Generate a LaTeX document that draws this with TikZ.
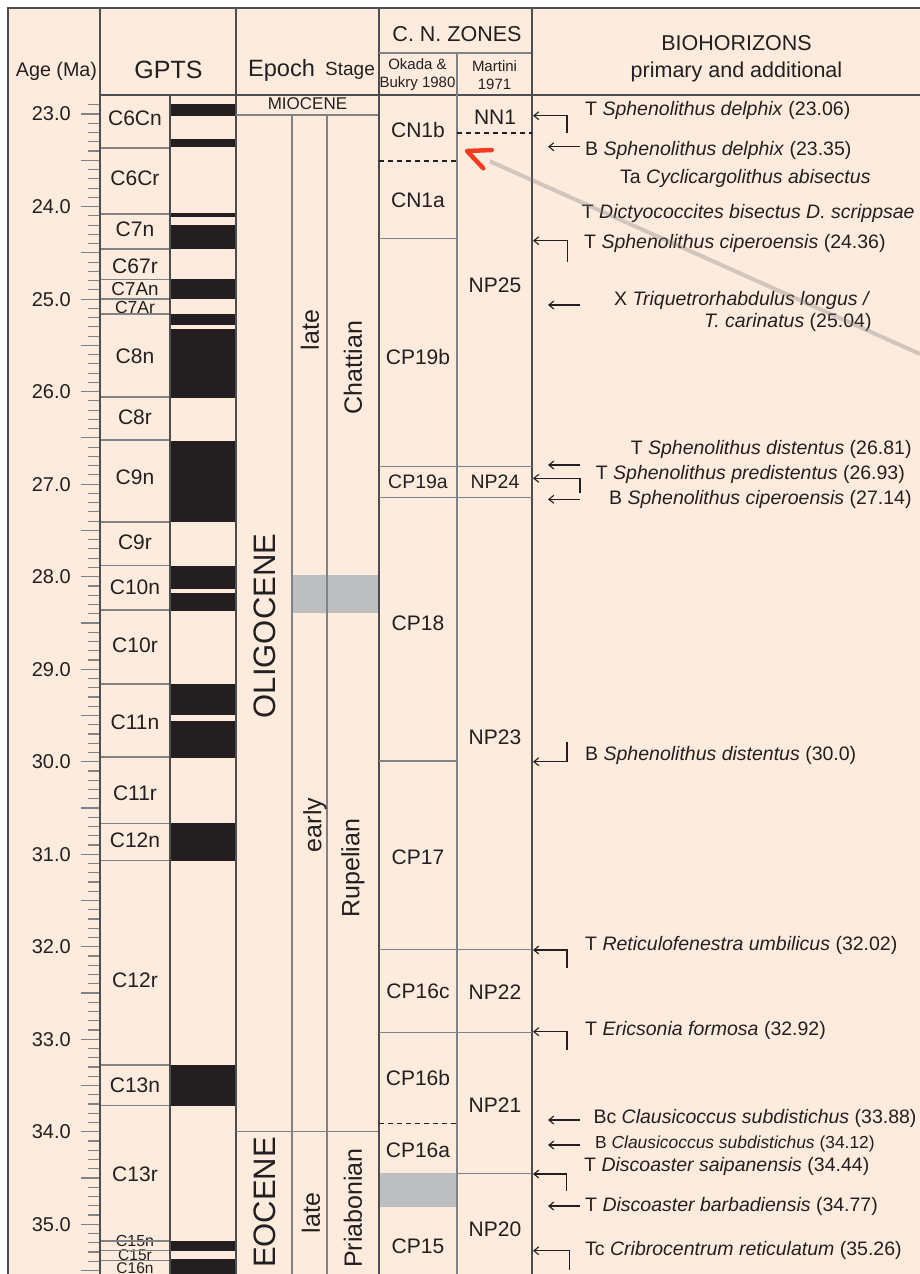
\documentclass[tikz,border=0pt]{standalone}
\usepackage{fontspec}
\setmainfont{Liberation Sans}
\usetikzlibrary{positioning,arrows.meta,calc}
\definecolor{peach}{HTML}{FDEBDD}
\definecolor{ink}{HTML}{231F20}
\definecolor{frame}{HTML}{4D4D4F}
\definecolor{rule}{HTML}{808285}
\definecolor{greyzone}{HTML}{BCBEC0}
\definecolor{pen}{HTML}{F23C1F}
\newcommand{\fsz}[2]{\fontsize{#1}{#2}\selectfont}
\tikzset{
  colline/.style={draw=frame, line width=1.4pt},
  subline/.style={draw=rule, line width=1.1pt},
  zonedash/.style={draw=ink, line width=1.1pt, dash pattern=on 5pt off 4pt},
  hdr/.style={text=ink, inner sep=0pt, font=\fsz{21.5}{27}, align=center},
  smallhdr/.style={text=ink, inner sep=0pt, font=\fsz{15}{18}, align=center},
  chron/.style={text=ink, inner sep=0pt},
  zone/.style={text=ink, inner sep=0pt, font=\fsz{21}{24}},
  agelab/.style={text=ink, inner sep=0pt, anchor=east, font=\fsz{20}{22}},
  vlab/.style={text=ink, inner sep=0pt, rotate=90, font=\fsz{25}{28}},
  epochlab/.style={vlab, font=\fsz{31}{34}},
  bio/.style={text=ink, inner sep=0pt, anchor=west, font=\fsz{19.5}{22.5}},
  polarity/.style={fill=ink},
  greybox/.style={fill=greyzone},
  tickline/.style={draw=rule, line width=1.2pt},
  bioarrow/.style={draw=ink, line width=1.1pt, -{Straight Barb[length=5pt,width=8pt]}}
}

\begin{document}
\begin{tikzpicture}[x=1pt, y=-1pt]
\useasboundingbox (0,0) rectangle (920,1274);
\fill[white] (0,0) rectangle (920,1274);
\fill[peach] (8,8) rectangle (920,1274);

% polarity column
\foreach \t/\b in {104.3/115.7, 139.3/146.7, 213.3/216.7, 225/249.3, 279.3/299,
  314/325, 329.3/397.7, 440.7/522.3, 565.5/589.3, 593.3/610.7, 684/715,
  721/757.7, 823/860.5, 1064.5/1105.7, 1241/1250.5, 1259/1274}
  \fill[polarity] (170,\t) rectangle (236,\b);

% grey intervals
\fill[greybox] (292,575) rectangle (379,612.7);
\fill[greybox] (379,1173.3) rectangle (457,1206.7);

% chron names
\foreach \lab/\yy/\sz [count=\k] in {C6Cn/118/21, C6Cr/178/21, C7n/229/21,
  C67r/266/21, C7An/289/18.8, C7Ar/307/17.5, C8n/356.7/21, C8r/417/21,
  C9n/477.7/21, C9r/542.7/21, C10n/587.3/21, C10r/645/21, C11n/722.7/21,
  C11r/793.3/21, C12n/840.7/21, C12r/980.7/21, C13n/1085/21, C13r/1174.3/21,
  C15n/1241/16, C15r/1255.5/15.5, C16n/1268.5/15.5}
  \node[chron, font=\fsz{\sz}{\sz}] (chron\k) at (135,\yy) {\lab};
\foreach \yy in {148,214,249,279.3,299,314,397,440,522,565.7,610,684,757,
  823.3,860.5,1065,1105.7,1241,1250.3,1260.5}
  \draw[subline] (100,\yy) -- (170,\yy);

% age scale
\foreach \i in {0,...,126} {
  \pgfmathsetmacro\yy{104.84+\i*9.251}
  \pgfmathsetmacro\tx{(mod(\i,5)==1) ? 81 : 88}
  \draw[tickline] (\tx,\yy) -- (100,\yy);
}
\foreach \a in {23,...,35}
  \node[agelab] (age\a) at (71,{114.1+(\a-23)*92.51}) {\a.0};

% frame and columns
\draw[colline] (8,1274) -- (8,8) -- (920,8);
\draw[colline] (100,8) -- (100,1274);
\draw[colline] (100,95) -- (920,95);
\draw[colline] (170,95) -- (170,1274);
\draw[colline] (236,8) -- (236,1274);
\draw[subline] (236,115) -- (379,115);
\draw[subline] (292,115) -- (292,1274);
\draw[subline] (327,115) -- (327,1274);
\draw[subline] (236,1131.7) -- (379,1131.7);
\draw[colline] (379,8) -- (379,1274);
\draw[subline] (379,53) -- (532,53);
\draw[subline] (457,53) -- (457,1274);
\draw[colline, line width=2pt] (532,8) -- (532,1274);

% zone boundaries
\draw[zonedash] (379,161) -- (457,161);
\draw[zonedash] (457,133) -- (532,133);
\draw[zonedash] (379,1123.3) -- (457,1123.3);
\draw[subline] (379,238.3) -- (457,238.3);
\draw[subline] (379,466.7) -- (532,466.7);
\draw[subline] (379,497.3) -- (532,497.3);
\draw[subline] (379,761) -- (457,761);
\draw[subline] (379,949.3) -- (532,949.3);
\draw[subline] (379,1032.3) -- (532,1032.3);
\draw[subline] (457,1173.3) -- (532,1173.3);

% headers
\node[hdr, font=\fsz{19.7}{22}] (agehdr) at (56.5,71) {Age (Ma)};
\node[hdr, font=\fsz{25}{28}] (gptshdr) at (168.5,70) {GPTS};
\node[hdr, font=\fsz{23.6}{26}] (epochhdr) at (281.5,70) {Epoch};
\node[hdr, font=\fsz{19}{22}] (stagehdr) at (350,71) {Stage};
\node[hdr] (cnhdr) at (457,34) {C. N. ZONES};
\node[smallhdr] (okadahdr) at (417.5,75) {Okada \&\\Bukry 1980};
\node[smallhdr] (martinihdr) at (494.5,75) {Martini\\1971};
\node[hdr] (biohdr) at (736.5,58.5) {BIOHORIZONS\\primary and additional};

% epochs and stages
\node[text=ink, inner sep=0pt, font=\fsz{17}{19}] (miocene) at (307.5,104) {MIOCENE};
\node[epochlab] (oligocene) at (265,626) {OLIGOCENE};
\node[epochlab] (eocene) at (265,1202.5) {EOCENE};
\node[vlab] (lateoli) at (310,330) {late};
\node[vlab] (chattian) at (353,367.5) {Chattian};
\node[vlab] (earlyoli) at (315,825) {early};
\node[vlab] (rupelian) at (353,868) {Rupelian};
\node[vlab] (lateeo) at (311,1213) {late};
\node[vlab] (priabonian) at (353,1208) {Priabonian};

% nannofossil zones
\foreach \lab/\yy/\sz [count=\k] in {CN1b/130/21, CN1a/200/21, CP19b/356.7/21,
  CP19a/482/19.5, CP18/623/21, CP17/857/21, CP16c/991.7/21, CP16b/1078/21,
  CP16a/1150.7/21, CP15/1246/21}
  \node[zone, font=\fsz{\sz}{\sz}] (okada\k) at (418,\yy) {\lab};
\foreach \lab/\yy/\sz [count=\k] in {NN1/117/21, NP25/285/21, NP24/482/19.5,
  NP23/737.7/21, NP22/991.7/21, NP21/1105/21, NP20/1229/21}
  \node[zone, font=\fsz{\sz}{\sz}] (martini\k) at (495,\yy) {\lab};

% biohorizons
\node[bio] (bio1) at (585,110) {T \textit{Sphenolithus delphix} (23.06)};
\node[bio] (bio2) at (585,150) {B \textit{Sphenolithus delphix} (23.35)};
\node[bio] (bio3) at (620,178) {Ta \textit{Cyclicargolithus abisectus}};
\node[bio] (bio4) at (581.7,213.7) {T \textit{Dictyococcites bisectus D. scrippsae}};
\node[bio] (bio5) at (584,243.7) {T \textit{Sphenolithus ciperoensis} (24.36)};
\node[bio] (bio6) at (614,300) {X \textit{Triquetrorhabdulus longus /}};
\node[bio, anchor=east] (bio6b) at (871.7,322.5) {\textit{T. carinatus} (25.04)};
\node[bio, anchor=east] (bio7) at (911.7,449) {T \textit{Sphenolithus distentus} (26.81)};
\node[bio, anchor=east] (bio8) at (905,474) {T \textit{Sphenolithus predistentus} (26.93)};
\node[bio, anchor=east] (bio9) at (911.7,499) {B \textit{Sphenolithus ciperoensis} (27.14)};
\node[bio] (bio10) at (585,755.7) {B \textit{Sphenolithus distentus} (30.0)};
\node[bio] (bio11) at (585,945) {T \textit{Reticulofenestra umbilicus} (32.02)};
\node[bio] (bio12) at (585,1030) {T \textit{Ericsonia formosa} (32.92)};
\node[bio] (bio13) at (593.3,1118.3) {Bc \textit{Clausicoccus subdistichus} (33.88)};
\node[bio, font=\fsz{17.4}{20}] (bio14) at (595,1144) {B \textit{Clausicoccus subdistichus} (34.12)};
\node[bio] (bio15) at (584,1166.7) {T \textit{Discoaster saipanensis} (34.44)};
\node[bio] (bio16) at (585,1206.7) {T \textit{Discoaster barbadiensis} (34.77)};
\node[bio] (bio17) at (585,1250) {Tc \textit{Cribrocentrum reticulatum} (35.26)};

% bent markers (tail x / tail y / tip y)
\foreach \tx/\ty/\ay in {567/133/115.7, 567.7/261.7/240.7, 580/493.3/478.3,
  567/741.7/761.7, 567/968.3/950, 567/1050/1031.7, 566.7/1190.7/1174,
  569.3/1270/1250.7}
  \draw[bioarrow] (\tx,\ty) |- (533,\ay);
% straight markers
\foreach \ay in {146.7,305,465,499.3,1120,1145,1206}
  \draw[bioarrow] (580,\ay) -- (548,\ay);

% pointer
\coordinate (pentip) at (467,151);
\coordinate (pentail) at (920,354);
\draw[draw=gray, opacity=0.35, line width=4pt] (pentail) -- ($(pentip)!0.05!(pentail)$);
\draw[pen, line width=4.5pt, line cap=round, line join=round]
  (491.7,150) -- (pentip) -- (483.3,168.3);
\end{tikzpicture}
\end{document}
